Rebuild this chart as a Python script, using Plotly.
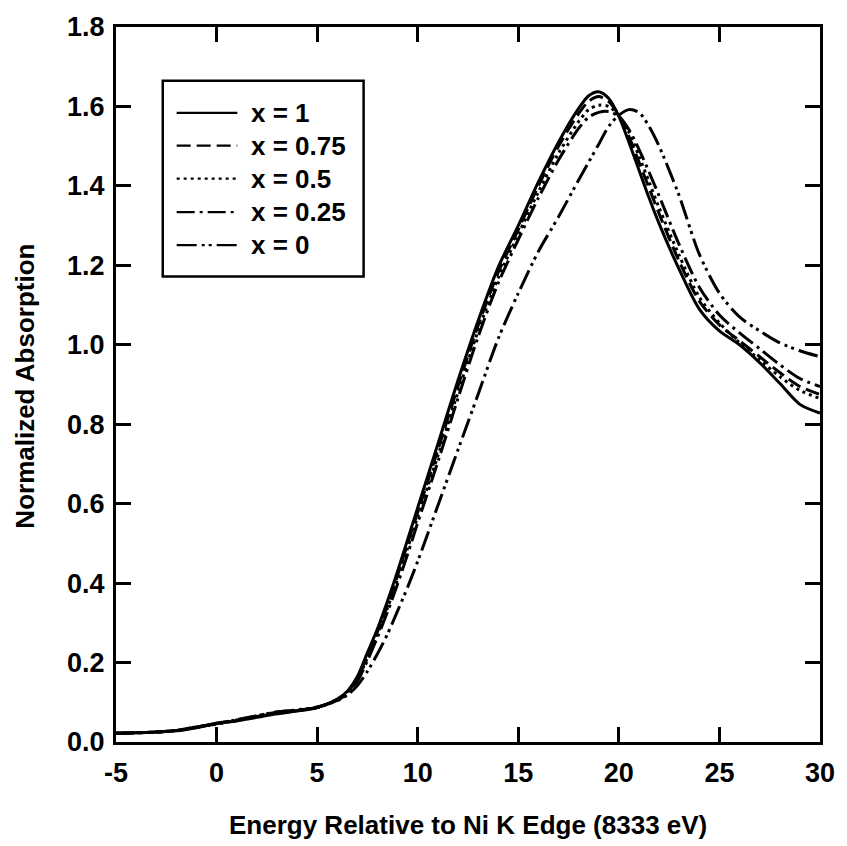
import plotly.graph_objects as go

# ---- data ----
energy = [-5, -4, -3, -2, -1, 0, 1, 2, 3, 4, 5, 6, 6.5, 7, 7.5, 8, 8.5, 9, 9.5, 10,
          11, 12, 13, 14, 15, 16, 17, 18, 18.5, 19, 19.5, 20, 20.5, 21, 21.5, 22,
          23, 24, 25, 26, 27, 28, 29, 30]

abs_x1 = [.022, .023, .025, .028, .036, .047, .053, .062, .071, .078, .087, .108, .128, .165,
          .225, .285, .355, .43, .51, .59, .75, .91, 1.06, 1.195, 1.30, 1.41, 1.51, 1.595,
          1.627, 1.637, 1.62, 1.575, 1.51, 1.44, 1.37, 1.305, 1.19, 1.09, 1.035, 1.0,
          0.955, 0.903, 0.85, 0.828]
abs_x075 = [.022, .023, .025, .029, .037, .047, .055, .064, .072, .079, .087, .107, .126, .16,
            .218, .278, .345, .42, .50, .578, .735, .895, 1.048, 1.182, 1.29, 1.40, 1.50,
            1.582, 1.613, 1.625, 1.612, 1.578, 1.525, 1.46, 1.395, 1.33, 1.21, 1.11, 1.05,
            1.01, 0.97, 0.93, 0.895, 0.875]
abs_x05 = [.022, .023, .025, .029, .037, .046, .054, .064, .073, .079, .087, .106, .124, .157,
           .212, .272, .338, .41, .488, .567, .72, .88, 1.035, 1.168, 1.278, 1.385, 1.482,
           1.562, 1.592, 1.603, 1.60, 1.577, 1.535, 1.475, 1.41, 1.345, 1.225, 1.12, 1.055,
           1.005, 0.962, 0.92, 0.885, 0.865]
abs_x025 = [.022, .023, .025, .029, .038, .046, .056, .066, .075, .080, .087, .105, .122, .153,
            .205, .264, .328, .398, .473, .552, .705, .865, 1.02, 1.155, 1.265, 1.37, 1.465,
            1.545, 1.573, 1.585, 1.587, 1.575, 1.542, 1.492, 1.435, 1.375, 1.252, 1.145,
            1.075, 1.03, 0.99, 0.95, 0.915, 0.895]
abs_x0 = [.022, .023, .025, .029, .038, .045, .055, .066, .076, .081, .088, .104, .118, .142,
          .178, .222, .272, .33, .39, .455, .595, .735, .875, 1.015, 1.13, 1.235, 1.322,
          1.415, 1.46, 1.505, 1.55, 1.578, 1.592, 1.585, 1.55, 1.50, 1.375, 1.228, 1.13,
          1.07, 1.035, 1.005, 0.985, 0.97]

series_names = ["x = 1", "x = 0.75", "x = 0.5", "x = 0.25", "x = 0"]
series_values = [abs_x1, abs_x075, abs_x05, abs_x025, abs_x0]

x_tick_vals = [-5, 0, 5, 10, 15, 20, 25, 30]
x_tick_text = ["-5", "0", "5", "10", "15", "20", "25", "30"]
y_tick_vals = [0.0, 0.2, 0.4, 0.6, 0.8, 1.0, 1.2, 1.4, 1.6, 1.8]
y_tick_text = ["0.0", "0.2", "0.4", "0.6", "0.8", "1.0", "1.2", "1.4", "1.6", "1.8"]

x_title = "Energy Relative to Ni K Edge (8333 eV)"
y_title = "Normalized Absorption"

# ---- styles ----
dashes = ["solid", "14px,6px", "3px,4px", "18px,5px,3px,5px", "20px,5px,3px,4px,3px,5px"]
FONT = "Liberation Sans, Arial, Helvetica, sans-serif"
FS = 26
TICK_FS = 27

fig = go.Figure()
for name, vals, d in zip(series_names, series_values, dashes):
    fig.add_trace(go.Scatter(x=energy, y=vals, mode="lines", name=name,
                             line=dict(color="black", width=3, dash=d,
                                       shape="spline", smoothing=0.8),
                             showlegend=False))

axis_common = dict(showline=True, linewidth=3, linecolor="black", mirror="ticks",
                   ticks="inside", ticklen=15, tickwidth=2.5, tickcolor="black",
                   showgrid=False, zeroline=False,
                   tickfont=dict(family=FONT, size=TICK_FS, color="black", weight="bold"))

fig.update_xaxes(range=[-5, 30], tickvals=x_tick_vals, ticktext=x_tick_text,
                 ticklabelstandoff=5, **axis_common)
fig.update_yaxes(range=[0, 1.8], tickvals=y_tick_vals, ticktext=y_tick_text,
                 ticklabelstandoff=3, **axis_common)

# custom legend box (paper coordinates)
box = dict(x0=0.0664, x1=0.3517, y0=0.651, y1=0.925)
fig.add_shape(type="rect", xref="paper", yref="paper", line=dict(color="black", width=2.5),
              fillcolor="white", layer="above", **box)
row_y = [0.880, 0.834, 0.788, 0.741, 0.695]
for name, d, yy in zip(series_names, dashes, row_y):
    fig.add_shape(type="line", xref="paper", yref="paper", x0=0.0862, x1=0.1723,
                  y0=yy, y1=yy, line=dict(color="black", width=2.2, dash=d), layer="above")
    fig.add_annotation(text=name, xref="paper", yref="paper", x=0.189, y=yy,
                       xanchor="left", yanchor="middle", showarrow=False,
                       font=dict(family=FONT, size=FS, color="black", weight="bold"))

fig.add_annotation(text=x_title, xref="paper", yref="paper", x=0.5, y=0, yshift=-83,
                   xanchor="center", yanchor="middle", showarrow=False,
                   font=dict(family=FONT, size=FS, color="black", weight="bold"))
fig.add_annotation(text=y_title, xref="paper", yref="paper", x=0, y=0.497, xshift=-91,
                   xanchor="center", yanchor="middle", showarrow=False, textangle=-90,
                   font=dict(family=FONT, size=FS, color="black", weight="bold"))

fig.update_layout(width=847, height=846, margin=dict(l=116, r=23, t=20, b=104),
                  plot_bgcolor="white", paper_bgcolor="white")

# remove the default 8px page margin so the figure fills the window exactly
fig.write_html("out.html", config={"displayModeBar": False},
               post_script="document.body.style.margin='0';document.body.style.overflow='hidden';")
